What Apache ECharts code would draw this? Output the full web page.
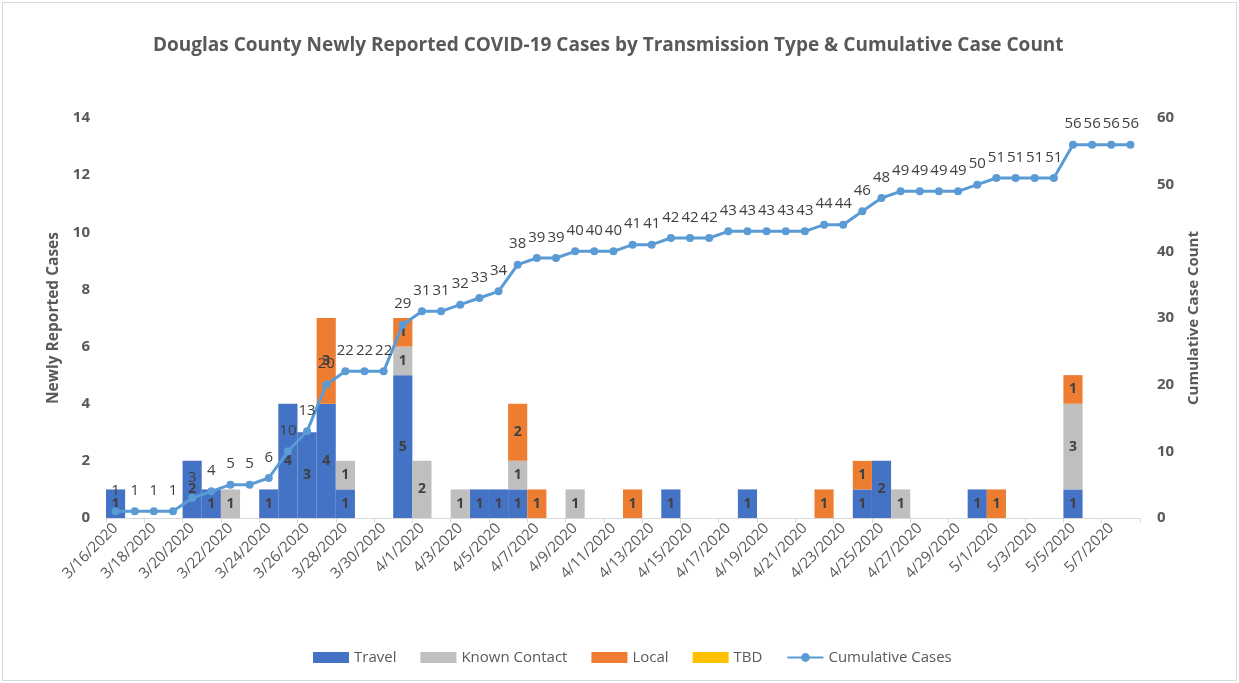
<!DOCTYPE html>
<html>
<head>
<meta charset="utf-8">
<script src="https://cdn.jsdelivr.net/npm/echarts@6/dist/echarts.min.js"></script>
<style>
html,body{margin:0;padding:0;background:#fff;}
#wrap{position:absolute;left:2px;top:2px;width:1233px;height:677px;border:1px solid #d9d9d9;}
#chart{width:1239px;height:683px;position:absolute;left:-3px;top:-3px;}
</style>
</head>
<body>
<div id="wrap"><div id="chart"></div></div>
<script>
const categories = [
 "3/16/2020","3/17/2020","3/18/2020","3/19/2020","3/20/2020","3/21/2020","3/22/2020","3/23/2020","3/24/2020","3/25/2020",
 "3/26/2020","3/27/2020","3/28/2020","3/29/2020","3/30/2020","3/31/2020","4/1/2020","4/2/2020","4/3/2020","4/4/2020",
 "4/5/2020","4/6/2020","4/7/2020","4/8/2020","4/9/2020","4/10/2020","4/11/2020","4/12/2020","4/13/2020","4/14/2020",
 "4/15/2020","4/16/2020","4/17/2020","4/18/2020","4/19/2020","4/20/2020","4/21/2020","4/22/2020","4/23/2020","4/24/2020",
 "4/25/2020","4/26/2020","4/27/2020","4/28/2020","4/29/2020","4/30/2020","5/1/2020","5/2/2020","5/3/2020","5/4/2020",
 "5/5/2020","5/6/2020","5/7/2020","5/8/2020"
];
const _ = null;
const travel = [
 1,_,_,_,2,1,_,_,1,4,
 3,4,1,_,_,5,_,_,_,1,
 1,1,_,_,_,_,_,_,_,1,
 _,_,_,1,_,_,_,_,_,1,
 2,_,_,_,_,1,_,_,_,_,
 1,_,_,_
];
const knownContact = [
 _,_,_,_,_,_,1,_,_,_,
 _,_,1,_,_,1,2,_,1,_,
 _,1,_,_,1,_,_,_,_,_,
 _,_,_,_,_,_,_,_,_,_,
 _,1,_,_,_,_,_,_,_,_,
 3,_,_,_
];
const local = [
 _,_,_,_,_,_,_,_,_,_,
 _,3,_,_,_,1,_,_,_,_,
 _,2,1,_,_,_,_,1,_,_,
 _,_,_,_,_,_,_,1,_,1,
 _,_,_,_,_,_,1,_,_,_,
 1,_,_,_
];
const tbd = new Array(categories.length).fill(null);
const cumulative = [
 1,1,1,1,3,4,5,5,6,10,
 13,20,22,22,22,29,31,31,32,33,
 34,38,39,39,40,40,40,41,41,42,
 42,42,43,43,43,43,43,44,44,46,
 48,49,49,49,49,50,51,51,51,51,
 56,56,56,56
];
const leftTicks = [0,2,4,6,8,10,12,14];
const rightTicks = [0,10,20,30,40,50,60];

const FONT = "'Open Sans', 'Noto Sans', sans-serif";
const GRAY = '#595959';
const barLabel = {
  show: true, position: 'inside', color: '#404040', fontSize: 14, fontWeight: 'bold', fontFamily: FONT,
  formatter: p => (p.value ? String(p.value) : '')
};
function barSeries(name, data, color) {
  return {
    name, type: 'bar', stack: 'cases', data, barCategoryGap: '0%',
    itemStyle: { color }, label: barLabel, emphasis: { disabled: true }
  };
}
const chart = echarts.init(document.getElementById('chart'));
chart.setOption({
  animation: false,
  textStyle: { fontFamily: FONT },
  title: {
    text: 'Douglas County Newly Reported COVID-19 Cases by Transmission Type & Cumulative Case Count',
    left: 148, top: 31,
    textStyle: { fontSize: 19, fontWeight: 'bold', color: GRAY, fontFamily: FONT }
  },
  legend: {
    bottom: 13, left: 308, itemWidth: 36, itemHeight: 11, itemGap: 24,
    textStyle: { color: GRAY, fontSize: 15, fontFamily: FONT },
    data: [
      { name: 'Travel', icon: 'rect' },
      { name: 'Known Contact', icon: 'rect' },
      { name: 'Local', icon: 'rect' },
      { name: 'TBD', icon: 'rect' },
      { name: 'Cumulative Cases' }
    ]
  },
  grid: { left: 106, right: 99, top: 118, bottom: 165, containLabel: false },
  xAxis: {
    type: 'category', data: categories, boundaryGap: true,
    axisLine: { lineStyle: { color: '#d9d9d9' } },
    axisTick: { show: true, interval: 1, length: 5, lineStyle: { color: '#d9d9d9' } },
    axisLabel: { interval: 1, rotate: 45, color: GRAY, fontSize: 15, fontFamily: FONT, margin: 8 }
  },
  yAxis: [
    {
      type: 'value', min: leftTicks[0], max: leftTicks[leftTicks.length - 1], interval: 2,
      name: 'Newly Reported Cases', nameLocation: 'middle', nameGap: 39, nameRotate: 90,
      nameTextStyle: { color: GRAY, fontSize: 15.5, fontWeight: 'bold', fontFamily: FONT },
      axisLine: { show: false }, axisTick: { show: false }, splitLine: { show: false },
      axisLabel: { color: GRAY, fontSize: 15, fontWeight: 'bold', margin: 16, fontFamily: FONT }
    },
    {
      type: 'value', min: rightTicks[0], max: rightTicks[rightTicks.length - 1], interval: 10,
      name: 'Cumulative Case Count', nameLocation: 'middle', nameGap: 46, nameRotate: 90,
      nameTextStyle: { color: GRAY, fontSize: 15, fontWeight: 'bold', fontFamily: FONT },
      axisLine: { show: false }, axisTick: { show: false }, splitLine: { show: false },
      axisLabel: { color: GRAY, fontSize: 15, fontWeight: 'bold', margin: 17, fontFamily: FONT }
    }
  ],
  series: [
    barSeries('Travel', travel, '#4472C4'),
    barSeries('Known Contact', knownContact, '#BFBFBF'),
    barSeries('Local', local, '#ED7D31'),
    barSeries('TBD', tbd, '#FFC000'),
    {
      name: 'Cumulative Cases', type: 'line', yAxisIndex: 1, data: cumulative,
      symbol: 'circle', symbolSize: 8, z: 5,
      lineStyle: { color: '#5B9BD5', width: 3 },
      itemStyle: { color: '#5B9BD5' },
      label: { show: true, position: 'top', distance: 9, color: '#404040', fontSize: 15, fontFamily: FONT },
      emphasis: { disabled: true }
    }
  ]
});
</script>
</body>
</html>
